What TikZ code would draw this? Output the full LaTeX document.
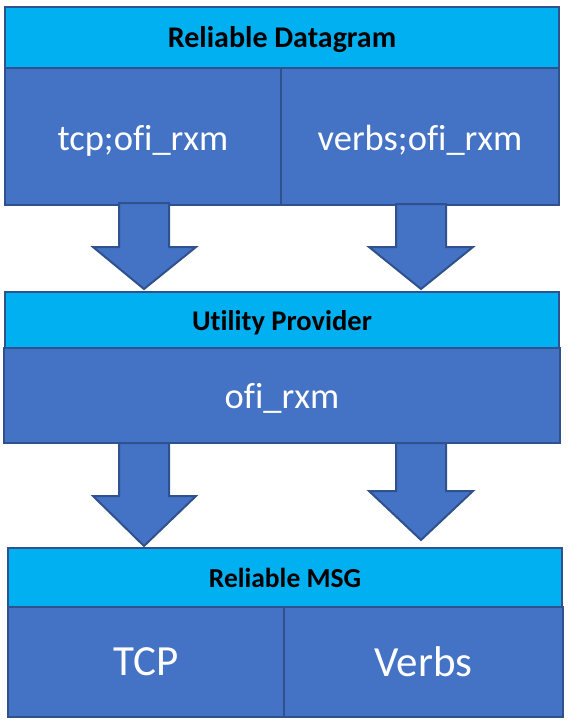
\documentclass[tikz,border=0pt]{standalone}
\usepackage{fontspec}
\setmainfont{Carlito}[Ligatures=NoCommon]
\definecolor{hdrfill}{HTML}{00B0F0}
\definecolor{bodyfill}{HTML}{4472C4}
\definecolor{edge}{HTML}{2F528F}
\newcommand{\lowered}[2]{\raisebox{-#1}[\height][\depth]{#2}}
\begin{document}
\begin{tikzpicture}[x=1pt,y=-1pt,
  box/.style={draw=edge,line width=2pt,inner sep=0pt,outer sep=0pt,anchor=north west},
  hdr/.style={box,fill=hdrfill,text=black,font=\bfseries},
  cell/.style={box,fill=bodyfill,text=white},
  blockarrow/.style={draw=edge,line width=2pt,fill=bodyfill,line join=miter}]
\useasboundingbox (0,0) rectangle (570,725);
% Block 1
\node[cell,minimum width=276pt,minimum height=137pt,font=\fontsize{36.5}{42}\selectfont] (c1) at (5,68) {\lowered{4pt}{tcp;ofi\_rxm}};
\node[cell,minimum width=278pt,minimum height=137pt,font=\fontsize{36.5}{42}\selectfont] (c2) at (281,68) {\lowered{4pt}{verbs;ofi\_rxm}};
\node[hdr,minimum width=554pt,minimum height=61pt,font=\fontsize{30}{36}\bfseries\selectfont] (h1) at (5,7) {\lowered{2pt}{Reliable Datagram}};
% Block 2
\node[cell,minimum width=556pt,minimum height=95pt,font=\fontsize{36.5}{42}\selectfont] (c3) at (4,348) {\lowered{3pt}{ofi\_rxm}};
\node[hdr,minimum width=554pt,minimum height=56pt,font=\fontsize{28.5}{34}\bfseries\selectfont] (h2) at (5,292) {\lowered{3pt}{Utility Provider}};
% Block 3
\node[cell,minimum width=276pt,minimum height=110pt,font=\fontsize{43}{50}\selectfont] (c4) at (8,607) {TCP};
\node[cell,minimum width=279pt,minimum height=110pt,font=\fontsize{43}{50}\selectfont] (c5) at (284,607) {Verbs};
\node[hdr,minimum width=554pt,minimum height=59pt,font=\fontsize{27.5}{33}\bfseries\selectfont] (h3) at (8,548) {Reliable MSG};
% Arrows
\draw[blockarrow] (119,203) -- (169,203) -- (169,247) -- (196,247) -- (144,289) -- (93,247) -- (119,247) -- cycle;
\draw[blockarrow] (396,204) -- (446,204) -- (446,247) -- (473,247) -- (421,289) -- (369,247) -- (396,247) -- cycle;
\draw[blockarrow] (119,443) -- (169,443) -- (169,496) -- (196,496) -- (144,546) -- (93,496) -- (119,496) -- cycle;
\draw[blockarrow] (396,443) -- (446,443) -- (446,491) -- (473,491) -- (421,540) -- (369,491) -- (396,491) -- cycle;
\end{tikzpicture}
\end{document}
